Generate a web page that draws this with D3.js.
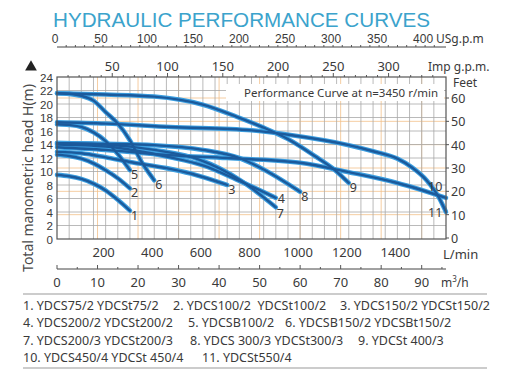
<!DOCTYPE html>
<html lang="en">
<head>
<meta charset="UTF-8">
<title>Hydraulic Performance Curves</title>
<style>
    body { margin: 0; background: #fff; }
    svg { display: block; }
    text { font-family: "Noto Sans", "Open Sans", sans-serif; fill: #3a3a3a; }
    .grid line { stroke: #a8a8a8; stroke-width: 0.8px; }
    .grid2 line { stroke: #f3c08a; stroke-width: 0.8px; }
    .halo { fill: none; stroke: #3b9ee0; stroke-width: 4.6px; stroke-linecap: round; }
    .core { fill: none; stroke: #1b5a9c; stroke-width: 2.4px; stroke-linecap: round; }
</style>
<script src="https://d3js.org/d3.v7.min.js"></script>
</head>
<body>
<script>
    // flow in L/min, head in m
    const curveIds = ["1", "2", "3", "4", "5", "6", "7", "8", "9", "10", "11"];
    const flow = [
        [0, 50, 100, 150, 200, 250, 300],
        [0, 50, 100, 150, 200, 250, 300],
        [0, 100, 200, 300, 450, 550, 700],
        [0, 200, 465, 600, 750, 900],
        [0, 50, 100, 150, 200, 250, 300],
        [0, 50, 100, 150, 200, 250, 300, 350, 400],
        [0, 200, 400, 590, 750, 900],
        [0, 200, 400, 600, 750, 850, 1000],
        [0, 200, 400, 600, 740, 850, 950, 1060, 1140, 1200],
        [0, 200, 465, 700, 1000, 1200, 1400, 1600],
        [0, 200, 465, 800, 960, 1200, 1300, 1400, 1460, 1520, 1570, 1600]
    ];
    const head = [
        [9.5, 9.3, 8.9, 8.2, 7.2, 5.8, 4.2],
        [12.5, 12.3, 11.9, 11.2, 10.2, 9.0, 7.5],
        [12.9, 12.7, 12.1, 11.4, 10.5, 9.7, 8.0],
        [14.0, 13.7, 12.1, 10.9, 8.6, 6.1],
        [17.0, 16.9, 16.6, 15.8, 14.5, 12.6, 10.2],
        [21.6, 21.5, 21.2, 20.5, 18.8, 17.1, 14.6, 11.3, 8.7],
        [14.2, 14.0, 13.2, 11.7, 8.8, 4.7],
        [14.2, 14.1, 13.9, 13.2, 12.0, 10.3, 7.0],
        [21.6, 21.4, 21.1, 19.9, 18.1, 16.5, 14.8, 12.3, 10.3, 8.3],
        [13.6, 13.2, 12.4, 12.0, 11.3, 9.9, 8.3, 6.1],
        [17.3, 17.1, 16.6, 16.1, 15.4, 13.9, 13.0, 11.9, 10.6, 8.7, 6.2, 4.0]
    ];

    const headTicks = d3.range(0, 25, 2);
    const feetTicks = [0, 10, 20, 30, 40, 50, 60];
    const lminTicks = [200, 400, 600, 800, 1000, 1200, 1400];
    const m3hTicks = [0, 10, 20, 30, 40, 50, 60, 70, 80, 90];
    const usTicks = [0, 50, 100, 150, 200, 250, 300, 350, 400];
    const impTicks = [50, 100, 150, 200, 250, 300];

    const legendRows = [
        ["1. YDCS75/2 YDCSt75/2", "2. YDCS100/2  YDCSt100/2", "3. YDCS150/2 YDCSt150/2"],
        ["4. YDCS200/2 YDCSt200/2", "5. YDCSB100/2", "6. YDCSB150/2 YDCSBt150/2"],
        ["7. YDCS200/3 YDCSt200/3", "8. YDCS 300/3 YDCSt300/3", "9. YDCSt 400/3"],
        ["10. YDCS450/4 YDCSt 450/4", "11. YDCSt550/4"]
    ];

    const W = 509, H = 372;
    const svg = d3.select("body").append("svg").attr("width", W).attr("height", H);

    const pL = 57, pR = 446, pT = 77, pB = 239;
    const x = d3.scaleLinear().domain([0, 1600]).range([pL, pR]);
    const y = d3.scaleLinear().domain([0, 24]).range([pB, pT]);
    const xm3 = d3.scaleLinear().domain([0, 96]).range([pL, pR]);
    const xus = d3.scaleLinear().domain([0, 1600 / 3.785]).range([pL, pR]);
    const ximp = d3.scaleLinear().domain([0, 1600 / 4.546]).range([pL, pR]);
    const yft = d3.scaleLinear().domain([0, 60]).range([238, 98]);

    // title
    svg.append("text").attr("x", 53).attr("y", 26.5)
        .attr("textLength", 377).attr("lengthAdjust", "spacingAndGlyphs")
        .style("font-family", "'Liberation Sans', Arial, sans-serif")
        .style("font-size", "21px").style("fill", "#3ba3cc")
        .text("HYDRAULIC PERFORMANCE CURVES");

    // grid
    const g = svg.append("g");
    g.append("g").attr("class", "grid2").selectAll("line").data(feetTicks.slice(1)).join("line")
        .attr("x1", pL).attr("x2", pR).attr("y1", d => yft(d)).attr("y2", d => yft(d));
    g.append("g").attr("class", "grid2").selectAll("line").data(m3hTicks.slice(1)).join("line")
        .attr("y1", pT).attr("y2", pB).attr("x1", d => xm3(d)).attr("x2", d => xm3(d));
    g.append("g").attr("class", "grid").selectAll("line").data(d3.range(50, 1600, 50)).join("line")
        .attr("y1", pT).attr("y2", pB).attr("x1", d => x(d)).attr("x2", d => x(d));
    g.append("g").attr("class", "grid").selectAll("line").data(headTicks.slice(1, -1)).join("line")
        .attr("x1", pL).attr("x2", pR).attr("y1", d => y(d)).attr("y2", d => y(d));

    // note box
    svg.append("rect").attr("x", 226).attr("y", 84).attr("width", 218).attr("height", 17).attr("fill", "#fff");
    svg.append("text").attr("x", 438).attr("y", 97).attr("text-anchor", "end")
        .style("font-size", "11.5px").text("Performance Curve at n=3450 r/min");

    // curves
    const line = d3.line().x(d => x(d[0])).y(d => y(d[1])).curve(d3.curveMonotoneX);
    const series = curveIds.map((id, i) => ({ id, pts: flow[i].map((q, j) => [q, head[i][j]]) }));
    const cg = svg.append("g");
    cg.selectAll(".halo").data(series).join("path").attr("class", "halo").attr("d", d => line(d.pts));
    cg.selectAll(".core").data(series).join("path").attr("class", "core").attr("d", d => line(d.pts));

    const nudge = { "4": [2, 5], "7": [1, 11], "10": [-18, -7], "11": [-18, 5] };
    svg.append("g").selectAll("text").data(series).join("text")
        .attr("x", d => x(d.pts[d.pts.length - 1][0]) + (nudge[d.id] ? nudge[d.id][0] : 1))
        .attr("y", d => y(d.pts[d.pts.length - 1][1]) + (nudge[d.id] ? nudge[d.id][1] : 9))
        .style("font-size", "12.5px").text(d => d.id);

    // frame
    svg.append("rect").attr("x", pL).attr("y", pT).attr("width", pR - pL).attr("height", pB - pT)
        .attr("fill", "none").attr("stroke", "#555").attr("stroke-width", 1.2);

    // left axis
    svg.append("g").selectAll("text").data(headTicks).join("text")
        .attr("x", 53).attr("y", d => y(d) + 4.5).attr("text-anchor", "end")
        .style("font-family", "'Liberation Sans', Arial, sans-serif")
        .style("font-size", "11.6px").text(d => d);
    svg.append("path").attr("d", d3.symbol(d3.symbolTriangle, 60)())
        .attr("transform", "translate(31,67)").attr("fill", "#222");
    svg.append("text").attr("transform", "translate(33,178) rotate(-90)").attr("text-anchor", "middle")
        .style("font-size", "14px").style("fill", "#4a4a4a").text("Total manometric head H(m)");

    // right axis (feet)
    const ra = svg.append("g");
    ra.selectAll("line").data(feetTicks).join("line")
        .attr("x1", pR).attr("x2", pR + 3).attr("y1", d => yft(d)).attr("y2", d => yft(d)).attr("stroke", "#555");
    ra.selectAll("text").data(feetTicks).join("text")
        .attr("x", 451).attr("y", d => yft(d) + 5).style("font-size", "12.5px").text(d => d);
    svg.append("text").attr("x", 453).attr("y", 87).style("font-size", "12px").text("Feet");

    // Imp gpm axis on top border
    const ia = svg.append("g");
    ia.selectAll("line").data(d3.range(10, 350, 10)).join("line")
        .attr("x1", d => ximp(d)).attr("x2", d => ximp(d)).attr("y1", pT).attr("y2", d => d % 50 ? pT - 2 : pT - 4)
        .attr("stroke", "#555");
    ia.selectAll("text").data(impTicks).join("text")
        .attr("x", d => ximp(d)).attr("y", 71).attr("text-anchor", "middle").style("font-size", "13px").text(d => d);
    svg.append("text").attr("x", 428).attr("y", 71).style("font-size", "12px").text("Imp g.p.m.");

    // US gpm axis
    const ua = svg.append("g");
    ua.append("line").attr("x1", pL).attr("x2", pR).attr("y1", 47).attr("y2", 47).attr("stroke", "#444");
    ua.selectAll("line.t").data(d3.range(10, 420, 10)).join("line").attr("class", "t")
        .attr("x1", d => xus(d)).attr("x2", d => xus(d)).attr("y1", 47).attr("y2", 45).attr("stroke", "#555");
    ua.selectAll("text").data(usTicks).join("text")
        .attr("x", d => xus(d) - 2).attr("y", 42.5).attr("text-anchor", "middle")
        .style("font-family", "'Liberation Sans', Arial, sans-serif")
        .style("font-size", "12px").text(d => d);
    svg.append("text").attr("x", 436).attr("y", 42.5).style("font-size", "12px").text("USg.p.m");

    // L/min labels
    svg.append("g").selectAll("text").data(lminTicks).join("text")
        .attr("x", d => x(d) - 2).attr("y", 257).attr("text-anchor", "middle").style("font-size", "13px").text(d => d);
    svg.append("text").attr("x", 443).attr("y", 259).style("font-size", "13px").text("L/min");

    // m3/h axis
    const ma = svg.append("g");
    ma.append("line").attr("x1", pL).attr("x2", pR).attr("y1", 269).attr("y2", 269).attr("stroke", "#444");
    ma.selectAll("line.t").data(d3.range(0, 96, 5)).join("line").attr("class", "t")
        .attr("x1", d => xm3(d)).attr("x2", d => xm3(d)).attr("y1", 269).attr("y2", d => d % 10 ? 267 : 265).attr("stroke", "#555");
    ma.selectAll("text").data(m3hTicks).join("text")
        .attr("x", d => xm3(d)).attr("y", 287).attr("text-anchor", "middle").style("font-size", "13px").text(d => d);
    const mt = svg.append("text").attr("x", 441).attr("y", 287).style("font-size", "12px");
    mt.append("tspan").text("m");
    mt.append("tspan").attr("dy", -5).style("font-size", "8px").text("3");
    mt.append("tspan").attr("dy", 5).text("/h");

    // legend
    svg.append("line").attr("x1", 23).attr("x2", 487).attr("y1", 294).attr("y2", 294).attr("stroke", "#999");
    svg.append("line").attr("x1", 23).attr("x2", 487).attr("y1", 368).attr("y2", 368).attr("stroke", "#999");
    const colX = [[23, 173, 340], [23, 188, 285], [23, 190, 358], [23, 202]];
    legendRows.forEach((row, r) => {
        row.forEach((t, c) => {
            svg.append("text").attr("x", colX[r][c]).attr("y", 310 + r * 17.3)
                .style("font-size", "12.5px").style("white-space", "pre").text(t);
        });
    });
</script>
</body>
</html>
